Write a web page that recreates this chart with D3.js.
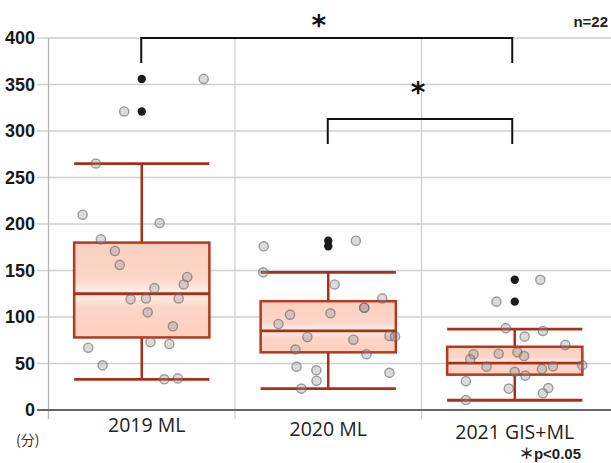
<!DOCTYPE html>
<html>
<head>
<meta charset="utf-8">
<script src="https://cdn.jsdelivr.net/npm/d3@7"></script>
<style>
  html, body { margin: 0; padding: 0; background: #fff; }
  svg { display: block; }
</style>
</head>
<body>
<svg id="chart" width="611" height="463"></svg>
<script>
// Groups on the x axis
const categories = ["2019 ML", "2020 ML", "2021 GIS+ML"];

// Box statistics per group: [lower whisker, Q1, median, Q3, upper whisker] (minutes)
const stats2019 = [33, 78, 125, 180, 265];
const stats2020 = [23, 62, 85, 117, 148];
const stats2021 = [10.5, 38, 50.5, 68, 87];

// Individual observations (minutes)
const values2019 = [265, 210, 201, 183.5, 171, 156, 143, 135, 131, 119, 120, 120, 105, 90, 67, 73, 71, 48, 33, 34, 321, 356];
const values2020 = [176, 182, 148, 135, 120, 110, 110, 102.5, 104, 92.5, 78.5, 75.6, 79.6, 79, 65, 60, 46.6, 42.7, 40, 31.5, 23];
const values2021 = [140, 116.5, 88, 85, 79, 70, 60, 60.5, 62, 58, 54.5, 46.6, 47, 44, 48, 41, 37, 31, 23, 23.6, 18, 10.7];

// Horizontal jitter of each observation, as a fraction of the group band
const jitter2019 = [-0.246, -0.317, 0.096, -0.219, -0.144, -0.118, 0.244, 0.225, 0.068, -0.060, 0.023, 0.198, 0.032, 0.167, -0.287, 0.047, 0.148, -0.210, 0.121, 0.193, -0.094, 0.332];
const jitter2020 = [-0.346, 0.148, -0.349, 0.034, 0.290, 0.193, 0.193, -0.205, 0.012, -0.267, -0.112, 0.135, 0.328, 0.358, -0.176, 0.205, -0.170, -0.064, 0.328, -0.063, -0.144];
const jitter2021 = [0.137, -0.098, -0.048, 0.151, 0.053, 0.271, -0.221, -0.086, 0.014, 0.050, -0.239, -0.151, 0.205, 0.146, 0.362, 0, 0.057, -0.262, -0.032, 0.180, 0.151, -0.262];

// Outliers shown on the group centre line
const outliers2019 = [356, 321];
const outliers2020 = [182, 176];
const outliers2021 = [140, 116.5];

// Y axis ticks
const yTicks = [0, 50, 100, 150, 200, 250, 300, 350, 400];

// Significance brackets: from group, to group, top value, leg end value, star value
const bracketFrom = ["2019 ML", "2020 ML"];
const bracketTo = ["2021 GIS+ML", "2021 GIS+ML"];
const bracketTop = [400, 313];
const bracketLeg = [373, 286];
const starValue = [418, 346];

const groups = [
  { name: categories[0], stats: stats2019, values: values2019, jitter: jitter2019, outliers: outliers2019 },
  { name: categories[1], stats: stats2020, values: values2020, jitter: jitter2020, outliers: outliers2020 },
  { name: categories[2], stats: stats2021, values: values2021, jitter: jitter2021, outliers: outliers2021 }
];

const svg = d3.select("#chart");
const x = d3.scaleBand().domain(categories).range([48.5, 608]).paddingInner(0).paddingOuter(0);
const y = d3.scaleLinear().domain([0, 400]).range([410, 38]);
const bw = x.bandwidth();
const boxW = bw * 0.725;
const cx = c => x(c) + bw / 2;

const boxColor = "#a8301a";

// Gradients for the upper and lower halves of the boxes
const defs = svg.append("defs");
const gUp = defs.append("linearGradient").attr("id", "gradUp").attr("x1", 0).attr("y1", 0).attr("x2", 0).attr("y2", 1);
gUp.append("stop").attr("offset", "0%").attr("stop-color", "#fbd0bf");
gUp.append("stop").attr("offset", "70%").attr("stop-color", "#fcd6c8");
gUp.append("stop").attr("offset", "100%").attr("stop-color", "#fff3ee");
const gDn = defs.append("linearGradient").attr("id", "gradDn").attr("x1", 0).attr("y1", 0).attr("x2", 0).attr("y2", 1);
gDn.append("stop").attr("offset", "0%").attr("stop-color", "#fff3ee");
gDn.append("stop").attr("offset", "30%").attr("stop-color", "#fcd6c8");
gDn.append("stop").attr("offset", "100%").attr("stop-color", "#fbd0bf");

// Horizontal gridlines with tick stubs
svg.append("g").selectAll("line").data(yTicks.filter(t => t > 0)).join("line")
  .attr("x1", 37).attr("x2", 611)
  .attr("y1", d => y(d)).attr("y2", d => y(d))
  .attr("stroke", "#cfcfcf").attr("stroke-width", 1.5);

// Vertical separators between groups and the left axis
const seps = [x(categories[0]), x(categories[1]), x(categories[2])];
svg.append("g").selectAll("line").data(seps).join("line")
  .attr("x1", d => d).attr("x2", d => d)
  .attr("y1", y(400)).attr("y2", 419)
  .attr("stroke", (d, i) => i === 0 ? "#b5b5b5" : "#cfcfcf").attr("stroke-width", 1.3);

// X axis baseline
svg.append("line").attr("x1", 37).attr("x2", 611).attr("y1", y(0)).attr("y2", y(0))
  .attr("stroke", "#666").attr("stroke-width", 2);

// Y tick labels
svg.append("g").selectAll("text").data(yTicks).join("text")
  .attr("x", 35).attr("y", d => y(d) + 6)
  .attr("text-anchor", "end")
  .attr("font-family", "'Liberation Sans Narrow', 'Liberation Sans', Arial, sans-serif")
  .attr("font-weight", "bold")
  .attr("font-size", 18)
  .attr("fill", "#1a1a1a")
  .text(d => d);

// Boxes, whiskers and medians
const box = svg.append("g").selectAll("g").data(groups).join("g");
box.append("line")
  .attr("x1", d => cx(d.name)).attr("x2", d => cx(d.name))
  .attr("y1", d => y(d.stats[0])).attr("y2", d => y(d.stats[4]))
  .attr("stroke", boxColor).attr("stroke-width", 2.5);
box.append("rect")
  .attr("x", d => cx(d.name) - boxW / 2).attr("width", boxW)
  .attr("y", d => y(d.stats[3])).attr("height", d => y(d.stats[2]) - y(d.stats[3]))
  .attr("fill", "url(#gradUp)");
box.append("rect")
  .attr("x", d => cx(d.name) - boxW / 2).attr("width", boxW)
  .attr("y", d => y(d.stats[2])).attr("height", d => y(d.stats[1]) - y(d.stats[2]))
  .attr("fill", "url(#gradDn)");
box.append("rect")
  .attr("x", d => cx(d.name) - boxW / 2).attr("width", boxW)
  .attr("y", d => y(d.stats[3])).attr("height", d => y(d.stats[1]) - y(d.stats[3]))
  .attr("fill", "none").attr("stroke", "#b33a1e").attr("stroke-width", 2.5);
box.selectAll("line.h").data(d => [0, 2, 4].map(i => ({ c: d.name, v: d.stats[i] }))).join("line")
  .attr("class", "h")
  .attr("x1", d => cx(d.c) - boxW / 2).attr("x2", d => cx(d.c) + boxW / 2)
  .attr("y1", d => y(d.v)).attr("y2", d => y(d.v))
  .attr("stroke", boxColor).attr("stroke-width", 2.8);

// Jittered observations
const pts = [];
groups.forEach(g => g.values.forEach((v, i) => pts.push({ c: g.name, v, j: g.jitter[i] })));
svg.append("g").selectAll("circle").data(pts).join("circle")
  .attr("cx", d => cx(d.c) + d.j * bw)
  .attr("cy", d => y(d.v))
  .attr("r", 4.6)
  .attr("fill", "rgba(150,150,150,0.35)")
  .attr("stroke", "rgba(100,100,100,0.6)")
  .attr("stroke-width", 1.4);

// Outliers
const outs = [];
groups.forEach(g => g.outliers.forEach(v => outs.push({ c: g.name, v })));
svg.append("g").selectAll("circle").data(outs).join("circle")
  .attr("cx", d => cx(d.c)).attr("cy", d => y(d.v))
  .attr("r", 4.2).attr("fill", "#1c1c1c");

// Significance brackets
const br = svg.append("g");
bracketFrom.forEach((f, i) => {
  const x1 = cx(f) - 0.5, x2 = cx(bracketTo[i]) - 2.5;
  br.append("path")
    .attr("d", `M${x1},${y(bracketLeg[i])}V${y(bracketTop[i])}H${x2}V${y(bracketLeg[i])}`)
    .attr("fill", "none").attr("stroke", "#111").attr("stroke-width", 2);
  br.append("text")
    .attr("x", (x1 + x2) / 2 - (i === 0 ? 8 : 2))
    .attr("y", y(starValue[i]) + 14)
    .attr("text-anchor", "middle")
    .attr("font-family", "'DejaVu Sans', sans-serif")
    .attr("font-weight", "bold")
    .attr("font-size", 28)
    .attr("fill", "#111")
    .text("*");
});

// Category labels
const labelBase = [432, 436, 439];
svg.append("g").selectAll("text").data(categories).join("text")
  .attr("x", d => cx(d) + (d === categories[0] ? 5 : 0))
  .attr("y", (d, i) => labelBase[i])
  .attr("text-anchor", "middle")
  .attr("font-family", "'Open Sans', 'Noto Sans', sans-serif")
  .attr("font-size", 19.5)
  .attr("fill", "#222")
  .text(d => d);

// Unit and notes
svg.append("text").attr("x", 16).attr("y", 445)
  .attr("font-family", "'Noto Sans CJK JP', sans-serif").attr("font-size", 14).attr("fill", "#333")
  .text("(分)");
svg.append("text").attr("x", 608).attr("y", 27).attr("text-anchor", "end")
  .attr("font-family", "'Liberation Sans', Arial, sans-serif").attr("font-weight", "bold")
  .attr("font-size", 15).attr("fill", "#222")
  .text("n=22");
svg.append("text").attr("x", 581).attr("y", 459).attr("text-anchor", "end")
  .attr("font-family", "'Liberation Sans', 'Noto Sans CJK JP', sans-serif").attr("font-weight", "bold")
  .attr("font-size", 15).attr("fill", "#222")
  .text("＊p<0.05");
</script>
</body>
</html>
